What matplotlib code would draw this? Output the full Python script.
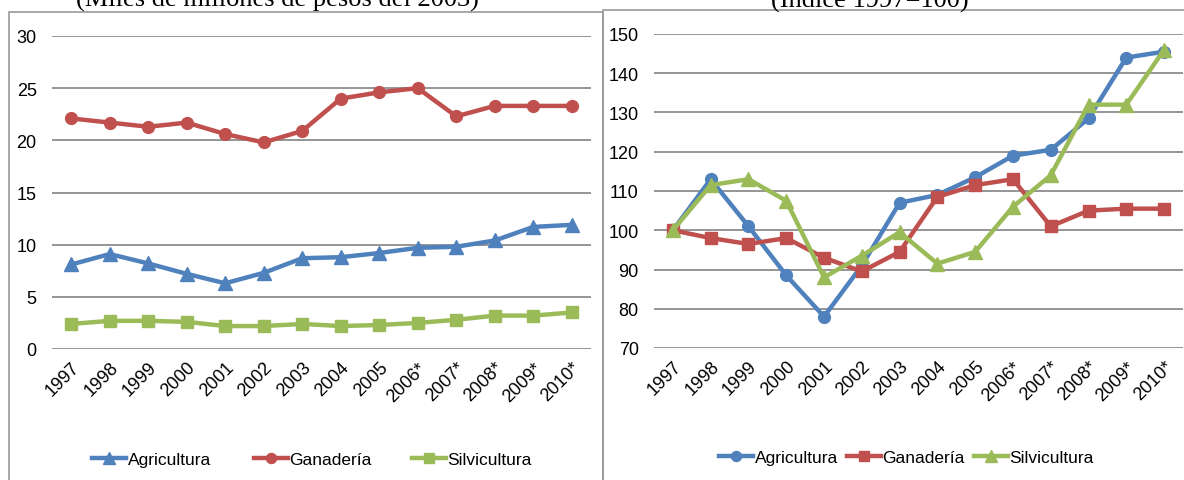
import matplotlib
matplotlib.use("Agg")
import matplotlib.pyplot as plt
from matplotlib.patches import Rectangle

years = ["1997", "1998", "1999", "2000", "2001", "2002", "2003", "2004", "2005",
         "2006*", "2007*", "2008*", "2009*", "2010*"]

# Left: Miles de millones de pesos del 2003
agri_val = [8.1, 9.1, 8.2, 7.2, 6.3, 7.3, 8.7, 8.8, 9.2, 9.7, 9.8, 10.4, 11.7, 11.9]
gana_val = [22.1, 21.7, 21.3, 21.7, 20.6, 19.8, 20.9, 24.0, 24.6, 25.0, 22.3, 23.3, 23.3, 23.3]
silv_val = [2.4, 2.7, 2.7, 2.6, 2.2, 2.2, 2.4, 2.2, 2.3, 2.5, 2.8, 3.2, 3.2, 3.5]

# Right: Indice 1997=100
agri_idx = [100, 113, 101, 88.5, 78, 91, 107, 109, 113.5, 119, 120.5, 128.5, 144, 145.5]
gana_idx = [100, 98, 96.5, 98, 93, 89.5, 94.5, 108.5, 111.5, 113, 101, 105, 105.5, 105.5]
silv_idx = [100, 111.5, 113, 107.5, 88, 93.5, 99.5, 91.5, 94.5, 106, 114, 132, 132, 146]

series_names = ["Agricultura", "Ganadería", "Silvicultura"]

BLUE = "#4F81BD"
RED = "#C0504D"
GREEN = "#9BBB59"
GRID = "#8c8c8c"

plt.rcParams["font.family"] = ["Liberation Sans", "DejaVu Sans"]

fig = plt.figure(figsize=(11.84, 4.81), dpi=100)
W, H = 1184, 481

# panel boxes
fig.patches.append(Rectangle((9 / W, -0.1), (603 - 9) / W, 1.1 - 13 / H,
                             transform=fig.transFigure, fill=False,
                             edgecolor="#9a9a9a", linewidth=1.2))
fig.patches.append(Rectangle((603 / W, -0.1), 0.5, 1.1 - 11 / H,
                             transform=fig.transFigure, fill=False,
                             edgecolor="#9a9a9a", linewidth=1.2))

# titles (partly cut by the top edge, as in the reference)
serif = ["Liberation Serif", "DejaVu Serif"]
fig.text(277 / W, 1 - 6.5 / H, "(Miles de millones de pesos del 2003)", ha="center",
         va="baseline", fontsize=19, family=serif)
fig.text(870 / W, 1 - 6.5 / H, "(Índice 1997=100)", ha="center",
         va="baseline", fontsize=19, family=serif)

x = list(range(len(years)))


def style(ax, ymin, ymax, step):
    ax.set_xlim(-0.5, len(years) - 0.5)
    ax.set_ylim(ymin, ymax)
    ax.set_yticks(list(range(ymin, ymax + 1, step)))
    ax.yaxis.grid(True, color=GRID, linewidth=1.3)
    ax.set_axisbelow(True)
    for s in ax.spines.values():
        s.set_visible(False)
    ax.tick_params(axis="both", length=0, labelsize=13)
    ax.tick_params(axis="y", pad=11)
    ax.tick_params(axis="x", pad=7)
    ax.set_xticks(x)
    ax.set_xticklabels(years, rotation=45, ha="right", va="top",
                       rotation_mode="anchor")
    ax.set_facecolor("none")


def entry_legends(lines, starts, y):
    for ln, xs in zip(lines, starts):
        fig.legend([ln], [ln.get_label()], loc="center left",
                   bbox_to_anchor=(xs / W, 1 - y / H),
                   bbox_transform=fig.transFigure, frameon=False,
                   fontsize=12.5, handlelength=1.95, handletextpad=0.1,
                   borderpad=0, borderaxespad=0, markerscale=0.85)


lw = 3.2
ms = 8.5

# Left axes
axL = fig.add_axes([52 / W, 1 - 350 / H, (591 - 52) / W, (350 - 37) / H])
l1, = axL.plot(x, agri_val, color=BLUE, marker="^", lw=lw, ms=ms + 1, label=series_names[0], clip_on=False)
l2, = axL.plot(x, gana_val, color=RED, marker="o", lw=lw, ms=ms, label=series_names[1], clip_on=False)
l3, = axL.plot(x, silv_val, color=GREEN, marker="s", lw=lw, ms=ms, label=series_names[2], clip_on=False)
style(axL, 0, 30, 5)
entry_legends([l1, l2, l3], [92, 254, 412], 460)

# Right axes
axR = fig.add_axes([654 / W, 1 - 349 / H, (1183 - 654) / W, (349 - 35) / H])
r1, = axR.plot(x, agri_idx, color=BLUE, marker="o", lw=lw, ms=ms, label=series_names[0], clip_on=False)
r2, = axR.plot(x, gana_idx, color=RED, marker="s", lw=lw, ms=ms, label=series_names[1], clip_on=False)
r3, = axR.plot(x, silv_idx, color=GREEN, marker="^", lw=lw, ms=ms + 1, label=series_names[2], clip_on=False)
style(axR, 70, 150, 10)
entry_legends([r1, r2, r3], [719, 847, 974], 458)

fig.savefig("out.png", dpi=100)
